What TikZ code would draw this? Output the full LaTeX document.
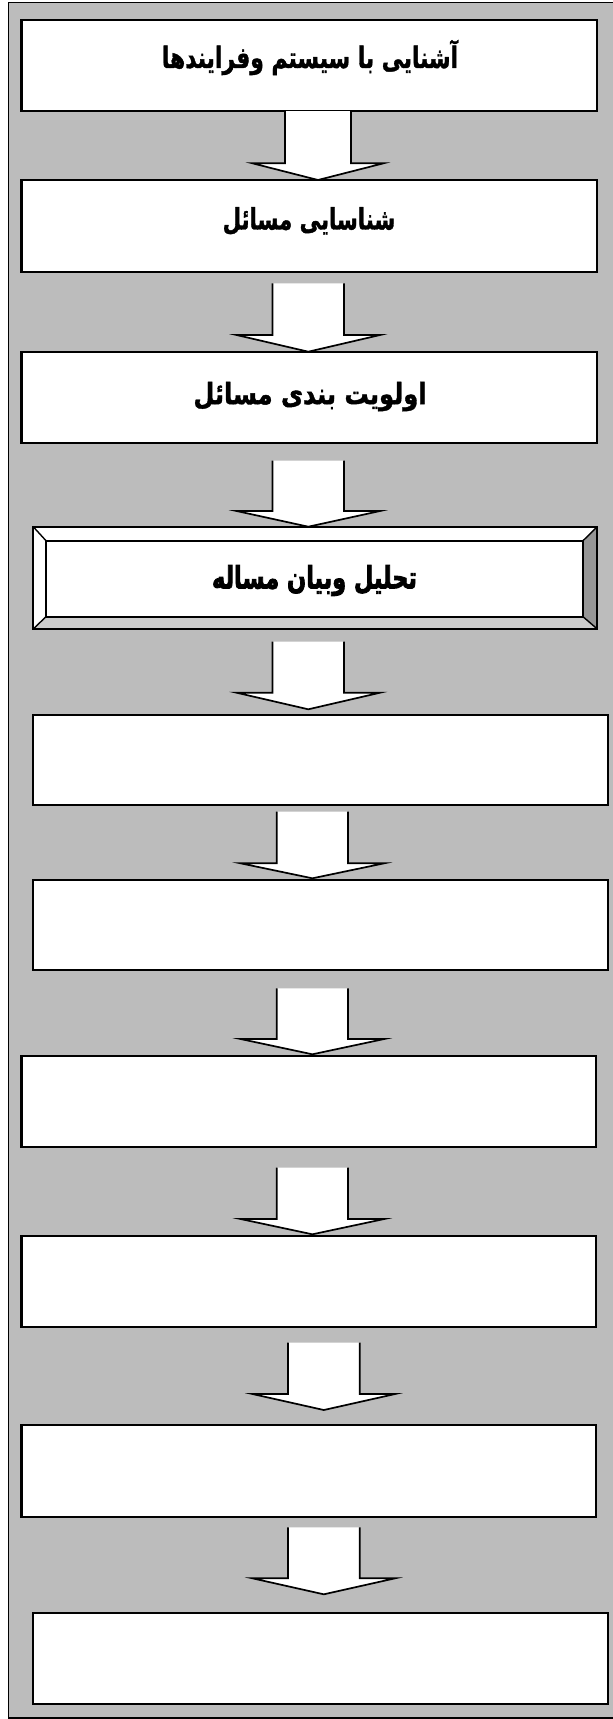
\documentclass[tikz,border=0pt]{standalone}
\usepackage{fontspec}
\usepackage{graphicx}
\newfontfamily\fa[Script=Arabic,BoldFeatures={FakeBold=1.4}]{DejaVu Sans}
\newfontfamily\fatitr[Script=Arabic,BoldFeatures={FakeBold=3}]{DejaVu Sans}
\TeXXeTstate=1
\definecolor{bgdots}{RGB}{188,188,188}
\definecolor{bevR}{RGB}{150,150,150}
\definecolor{bevB}{RGB}{205,205,205}
\tikzset{
  stepbox/.style={draw=black, line width=2.2pt, fill=white},
  blockarrow/.style={draw=black, line width=1.7pt, fill=white, line join=miter},
  steptext/.style={font=\fa\bfseries\fontsize{21}{24}\selectfont, inner sep=0pt},
}
% cx, half shaft, half head, ytop, yshoulder, ytip
\newcommand\blockarr[6]{%
  \draw[blockarrow] ({#1-#2},#4) -- ({#1-#2},#5) -- ({#1-#3},#5) -- (#1,#6)
    -- ({#1+#3},#5) -- ({#1+#2},#5) -- ({#1+#2},#4);}
\begin{document}
\begin{tikzpicture}[x=1pt,y=-1pt]
\useasboundingbox (0,0) rectangle (613,1719);
\fill[white] (0,0) rectangle (613,1719);
\filldraw[fill=bgdots, draw=black, line width=1.2pt] (8.6,2.7) rectangle (616,1718);

% plain boxes
\node[stepbox, minimum width=575.5pt, minimum height=91pt, inner sep=0pt] (b1) at (309.25,65.5) {};
\node[stepbox, minimum width=575.5pt, minimum height=91.7pt, inner sep=0pt] (b2) at (309.25,225.85) {};
\node[stepbox, minimum width=575.5pt, minimum height=91.6pt, inner sep=0pt] (b3) at (309.25,397.5) {};
\node[stepbox, minimum width=574.8pt, minimum height=90pt, inner sep=0pt] (b5) at (320.6,760) {};
\node[stepbox, minimum width=574.8pt, minimum height=90pt, inner sep=0pt] (b6) at (320.6,925) {};
\node[stepbox, minimum width=574.5pt, minimum height=90.7pt, inner sep=0pt] (b7) at (308.75,1101.35) {};
\node[stepbox, minimum width=574.5pt, minimum height=90.7pt, inner sep=0pt] (b8) at (308.75,1281.35) {};
\node[stepbox, minimum width=574.5pt, minimum height=91.4pt, inner sep=0pt] (b9) at (308.75,1471) {};
\node[stepbox, minimum width=574.8pt, minimum height=91.3pt, inner sep=0pt] (b10) at (320.6,1658.35) {};

% bevel box
\node[inner sep=0pt, minimum width=564.1pt, minimum height=102.3pt] (b4) at (315.25,577.85) {};
\fill[white] (33.2,526.7) -- (597.3,526.7) -- (583,540.7) -- (46,540.7) -- cycle;
\fill[white] (33.2,526.7) -- (46,540.7) -- (46,616.7) -- (33.2,629) -- cycle;
\fill[bevR] (597.3,526.7) -- (597.3,629) -- (583,616.7) -- (583,540.7) -- cycle;
\fill[bevB] (33.2,629) -- (46,616.7) -- (583,616.7) -- (597.3,629) -- cycle;
\fill[white] (46,540.7) rectangle (583,616.7);
\draw[line width=2pt] (33.2,526.7) rectangle (597.3,629);
\draw[line width=2pt] (46,540.7) rectangle (583,616.7);
\draw[line width=1.4pt] (33.2,526.7) -- (46,540.7) (597.3,526.7) -- (583,540.7)
  (33.2,629) -- (46,616.7) (597.3,629) -- (583,616.7);

% texts
\node[steptext] (t1) at (310,57.5) {\scalebox{1.04}[1.4]{\beginR آشنایی با سیستم وفرایندها\endR}};
\node[steptext] (t2) at (309,221) {\scalebox{1.01}[1.4]{\beginR شناسایی مسائل\endR}};
\node[steptext] (t3) at (310,396.5) {\scalebox{1.15}[1.4]{\beginR اولویت بندی مسائل\endR}};
\node[steptext, font=\fatitr\bfseries\fontsize{22}{24}\selectfont] (t4) at (314.5,580.5) {\scalebox{1.02}[1.4]{\beginR تحلیل وبیان مساله\endR}};

% block arrows
\blockarr{318}{33}{65.5}{111}{163.3}{180}
\blockarr{308.3}{35.75}{71.75}{283.3}{335}{351.7}
\blockarr{308.3}{35.75}{71.75}{460.7}{511}{526.7}
\blockarr{308.3}{35.75}{71.75}{641.7}{692.7}{709.3}
\blockarr{312.4}{35.6}{71.8}{811.7}{863.3}{878.3}
\blockarr{312.4}{35.6}{71.8}{988.3}{1039}{1054.3}
\blockarr{312.4}{35.6}{71.8}{1167.7}{1219}{1234.3}
\blockarr{323.8}{35.85}{71.3}{1342.7}{1394}{1410}
\blockarr{323.8}{35.85}{71.3}{1527.3}{1578.3}{1594.3}
\end{tikzpicture}
\end{document}
